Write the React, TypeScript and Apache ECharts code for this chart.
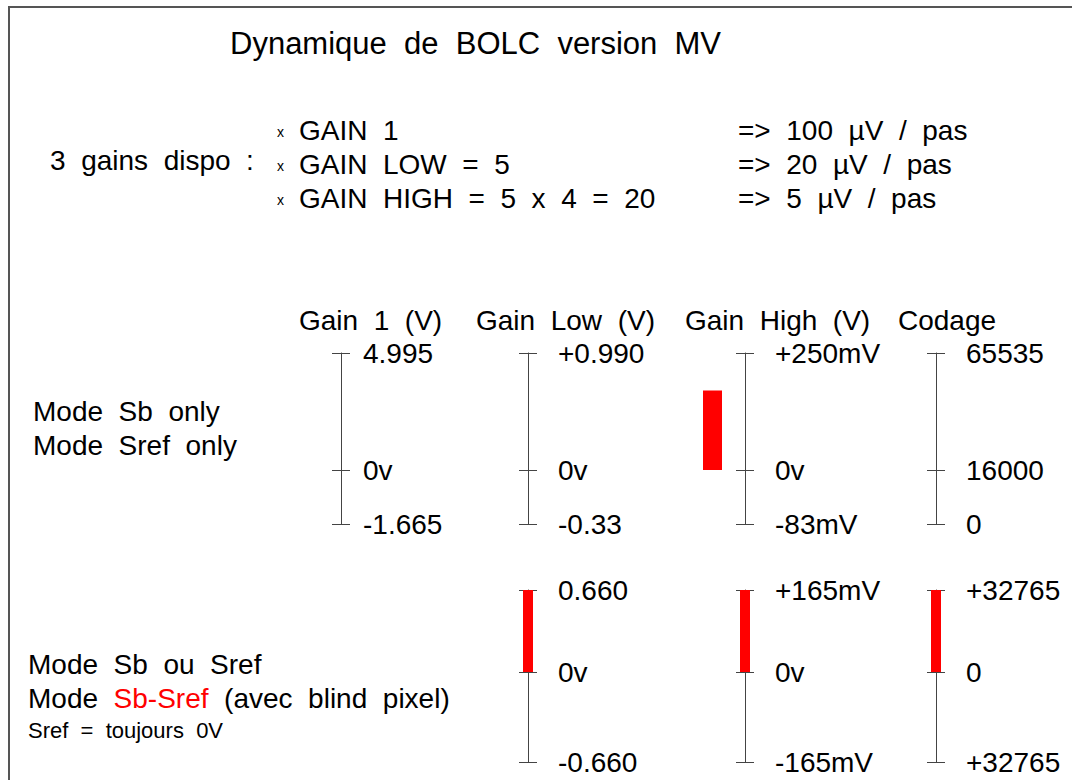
import React, { useEffect, useRef } from "react";
import * as echarts from "echarts";

const FONT = '"Liberation Sans", Arial, Helvetica, sans-serif';

// ---------- texts ----------
const title = "Dynamique  de  BOLC  version  MV";
const gainsIntro = "3  gains  dispo  :";
const gainLines = ["GAIN  1", "GAIN  LOW  =  5", "GAIN  HIGH  =  5  x  4  =  20"];
const stepLines = ["=>  100  µV  /  pas", "=>  20  µV  /  pas", "=>  5  µV  /  pas"];
const columnHeaders = ["Gain  1  (V)", "Gain  Low  (V)", "Gain  High  (V)", "Codage"];
const topModes = ["Mode  Sb  only", "Mode  Sref  only"];
const bottomMode1 = "Mode  Sb  ou  Sref";
const bottomMode2 = ["Mode  ", "Sb-Sref", "  (avec  blind  pixel)"];
const bottomNote = "Sref  =  toujours  0V";

// ---------- top section (Mode Sb only / Mode Sref only), columns: Gain 1, Gain Low, Gain High, Codage ----------
const topMax = [4.995, 0.99, 250, 65535];
const topMid = [0, 0, 0, 16000];
const topMin = [-1.665, -0.33, -83, 0];
const topMaxLabels = ["4.995", "+0.990", "+250mV", "65535"];
const topMidLabels = ["0v", "0v", "0v", "16000"];
const topMinLabels = ["-1.665", "-0.33", "-83mV", "0"];
const topBarColumn = 2; // Gain High
const topBarValue = 170; // mV

// ---------- bottom section (Mode Sb ou Sref / Sb-Sref), columns: Gain Low, Gain High, Codage ----------
const bottomColumns = [1, 2, 3];
const bottomMax = [0.66, 165, 32765];
const bottomMid = [0, 0, 0];
const bottomMin = [-0.66, -165, -32765];
const bottomMaxLabels = ["0.660", "+165mV", "+32765"];
const bottomMidLabels = ["0v", "0v", "0"];
const bottomMinLabels = ["-0.660", "-165mV", "+32765"];
const bottomBarValues = [0.66, 165, 32765];

// ---------- layout ----------
const AXIS_X = [341, 528, 745, 936];
const LABEL_MARGIN = [22, 30, 30, 30];
const TOP_Y = [353, 470, 524];
const BOT_Y = [590, 672, 762];
const CAP = 9;
const RED = "#ff0000";
const AXIS_COLOR = "#444";
const FS = 28;

const near = (a: number, b: number) => Math.abs(a - b) < 1e-6 * Math.max(1, Math.abs(b));

function buildAxes() {
  const grid: any[] = [];
  const xAxis: any[] = [];
  const yAxis: any[] = [];
  const series: any[] = [];

  const addHalf = (
    ax: number,
    margin: number,
    top: number,
    bottom: number,
    min: number,
    max: number,
    fmt: (v: number) => string,
    barValue: number | null,
    barWidth: number
  ) => {
    const idx = grid.length;
    grid.push({ left: ax - CAP, width: CAP * 2, top, height: bottom - top, containLabel: false, outerBoundsMode: "none" });
    xAxis.push({ type: "category", gridIndex: idx, data: ["v"], show: false });
    yAxis.push({
      type: "value",
      gridIndex: idx,
      min,
      max,
      interval: max - min,
      position: "left",
      offset: -CAP,
      axisLine: { show: true, onZero: false, lineStyle: { color: AXIS_COLOR, width: 1 } },
      axisTick: { show: false },
      splitLine: { show: true, lineStyle: { color: AXIS_COLOR, width: 1 } },
      axisLabel: {
        show: true,
        inside: true,
        margin,
        formatter: fmt,
        color: "#000",
        fontSize: FS,
        fontFamily: FONT,
        padding: [8, 0, 0, 0],
      },
    });
    if (barValue !== null) {
      series.push({
        type: "bar",
        xAxisIndex: idx,
        yAxisIndex: idx,
        data: [barValue],
        barWidth,
        itemStyle: { color: RED },
        silent: true,
      });
    }
  };

  const addColumn = (
    col: number,
    ys: number[],
    max: number,
    mid: number,
    min: number,
    maxL: string,
    midL: string,
    minL: string,
    barValue: number | null
  ) => {
    const ax = AXIS_X[col];
    const m = LABEL_MARGIN[col];
    addHalf(ax, m, ys[0], ys[1], mid, max, (v) => (near(v, max) ? maxL : near(v, mid) ? midL : ""), barValue, 10);
    addHalf(ax, m, ys[1], ys[2], min, mid, (v) => (near(v, min) ? minL : ""), null, 10);
  };

  topMax.forEach((_, i) =>
    addColumn(i, TOP_Y, topMax[i], topMid[i], topMin[i], topMaxLabels[i], topMidLabels[i], topMinLabels[i], null)
  );
  bottomColumns.forEach((col, i) =>
    addColumn(col, BOT_Y, bottomMax[i], bottomMid[i], bottomMin[i], bottomMaxLabels[i], bottomMidLabels[i], bottomMinLabels[i], bottomBarValues[i])
  );

  // red bar beside the Gain High axis in the top section (same scale as the upper half of that axis)
  const idx = grid.length;
  grid.push({ left: 703, width: 19, top: TOP_Y[0], height: TOP_Y[1] - TOP_Y[0], containLabel: false, outerBoundsMode: "none" });
  xAxis.push({ type: "category", gridIndex: idx, data: ["v"], show: false });
  yAxis.push({ type: "value", gridIndex: idx, min: topMid[topBarColumn], max: topMax[topBarColumn], show: false, splitLine: { show: false } });
  series.push({
    type: "bar",
    xAxisIndex: idx,
    yAxisIndex: idx,
    data: [topBarValue],
    barWidth: "100%",
    itemStyle: { color: RED },
    silent: true,
  });

  return { grid, xAxis, yAxis, series };
}

const txt = (text: string, x: number, y: number, fontSize = FS, fill = "#000") => ({
  type: "text",
  x,
  y,
  silent: true,
  style: { text, fontSize, fontFamily: FONT, fill, align: "left", verticalAlign: "middle" },
});

function buildGraphics() {
  const g: any[] = [];
  g.push({
    type: "rect",
    silent: true,
    shape: { x: 9, y: 7, width: 1300, height: 1000 },
    style: { fill: "none", stroke: "#555", lineWidth: 2 },
  });
  g.push(txt(title, 230, 43, 31));
  g.push(txt(gainsIntro, 50, 160));
  const lineY = [130, 164, 198];
  gainLines.forEach((t, i) => {
    g.push(txt("x", 277, lineY[i] + 2, 14));
    g.push(txt(t, 299, lineY[i]));
  });
  stepLines.forEach((t, i) => g.push(txt(t, 738, lineY[i])));
  const headerX = [299, 476, 685, 898];
  columnHeaders.forEach((t, i) => g.push(txt(t, headerX[i], 320)));
  g.push(txt(topModes[0], 33, 411));
  g.push(txt(topModes[1], 33, 445));
  g.push(txt(bottomMode1, 28, 664));
  g.push({
    type: "text",
    x: 28,
    y: 698,
    silent: true,
    style: {
      text: `{a|${bottomMode2[0]}}{r|${bottomMode2[1]}}{a|${bottomMode2[2]}}`,
      fontSize: FS,
      fontFamily: FONT,
      align: "left",
      verticalAlign: "middle",
      rich: {
        a: { fill: "#000", fontSize: FS, fontFamily: FONT },
        r: { fill: RED, fontSize: FS, fontFamily: FONT },
      },
    },
  });
  g.push(txt(bottomNote, 28, 730, 22));
  return g;
}

export default function App() {
  const ref = useRef<HTMLDivElement>(null);
  useEffect(() => {
    if (!ref.current) return;
    const chart = echarts.init(ref.current, null, { renderer: "svg" });
    const { grid, xAxis, yAxis, series } = buildAxes();
    chart.setOption({
      animation: false,
      backgroundColor: "#fff",
      grid,
      xAxis,
      yAxis,
      series,
      graphic: buildGraphics(),
    });
    return () => chart.dispose();
  }, []);
  return (
    <div
      ref={ref}
      style={{ position: "absolute", left: 0, top: 0, width: 1072, height: 780, background: "#fff" }}
    />
  );
}
